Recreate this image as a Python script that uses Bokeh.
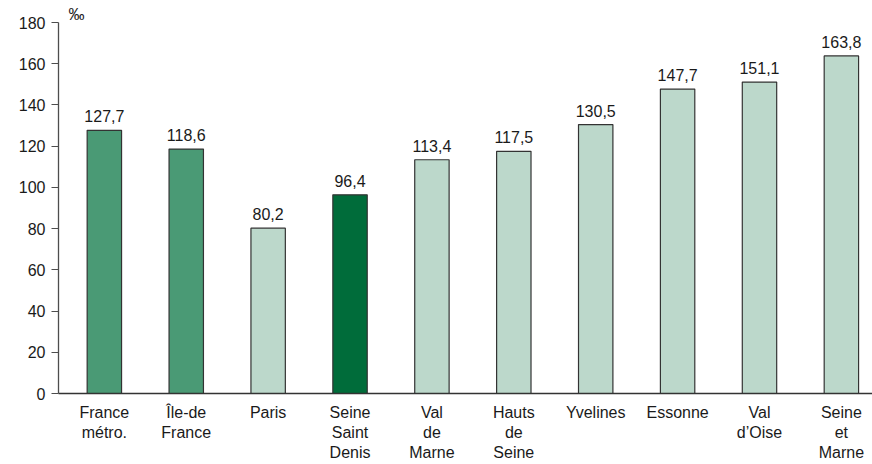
from bokeh.plotting import figure
from bokeh.models import Range1d, FixedTicker
from bokeh.core.properties import value
from bokeh.embed import file_html
from bokeh.resources import INLINE

categories = ["France\nmétro.", "Île-de\nFrance", "Paris", "Seine\nSaint\nDenis", "Val\nde\nMarne",
              "Hauts\nde\nSeine", "Yvelines", "Essonne", "Val\nd’Oise", "Seine\net\nMarne"]
values = [127.7, 118.6, 80.2, 96.4, 113.4, 117.5, 130.5, 147.7, 151.1, 163.8]
value_labels = ["127,7", "118,6", "80,2", "96,4", "113,4", "117,5", "130,5", "147,7", "151,1", "163,8"]
colors = ["#4a9a75", "#4a9a75", "#bcd8cb", "#006c3a", "#bcd8cb", "#bcd8cb", "#bcd8cb", "#bcd8cb", "#bcd8cb", "#bcd8cb"]
y_ticks = [0, 20, 40, 60, 80, 100, 120, 140, 160, 180]
unit = "‰"

FONT = "Liberation Sans"
xs = list(range(len(categories)))

p = figure(width=872, height=464, output_backend="svg", toolbar_location=None,
           x_range=Range1d(-0.56, 9.38), y_range=Range1d(0, 180),
           min_border_left=58, min_border_right=0, min_border_top=22, min_border_bottom=70)
p.outline_line_color = None
p.xgrid.visible = False
p.ygrid.visible = False

p.title.text = unit
p.title.align = "left"
p.title.offset = 10
p.title.text_font = FONT
p.title.text_font_style = "normal"
p.title.text_font_size = "16px"
p.title.text_color = "#1a1a1a"
p.title.standoff = 0

src = dict(x=xs, top=values, color=colors, lab=value_labels)
p.vbar(x="x", top="top", width=0.42, fill_color="color", line_color="#333333", line_width=1.2, source=src)
p.text(x="x", y="top", text="lab", source=src, text_align="center", text_baseline="bottom",
       y_offset=-8, text_font=value(FONT), text_font_size="16px", text_color="#1a1a1a")

p.yaxis.ticker = FixedTicker(ticks=y_ticks)
p.yaxis.axis_line_color = "#4d4d4d"
p.yaxis.axis_line_width = 1.3
p.yaxis.major_tick_line_color = "#4d4d4d"
p.yaxis.major_tick_out = 7
p.yaxis.major_tick_in = 0
p.yaxis.minor_tick_line_color = None
p.yaxis.major_label_text_font = FONT
p.yaxis.major_label_text_font_size = "16px"
p.yaxis.major_label_text_color = "#1a1a1a"
p.yaxis.major_label_standoff = 6

p.xaxis.ticker = FixedTicker(ticks=xs)
p.xaxis.major_label_overrides = {i: c for i, c in enumerate(categories)}
p.xaxis.axis_line_color = "#333333"
p.xaxis.axis_line_width = 1.3
p.xaxis.major_tick_line_color = None
p.xaxis.major_tick_out = 0
p.xaxis.minor_tick_line_color = None
p.xaxis.major_label_text_font = FONT
p.xaxis.major_label_text_font_size = "16px"
p.xaxis.major_label_text_color = "#1a1a1a"
p.xaxis.major_label_standoff = 10

open("out.html", "w").write(file_html(p, INLINE))
